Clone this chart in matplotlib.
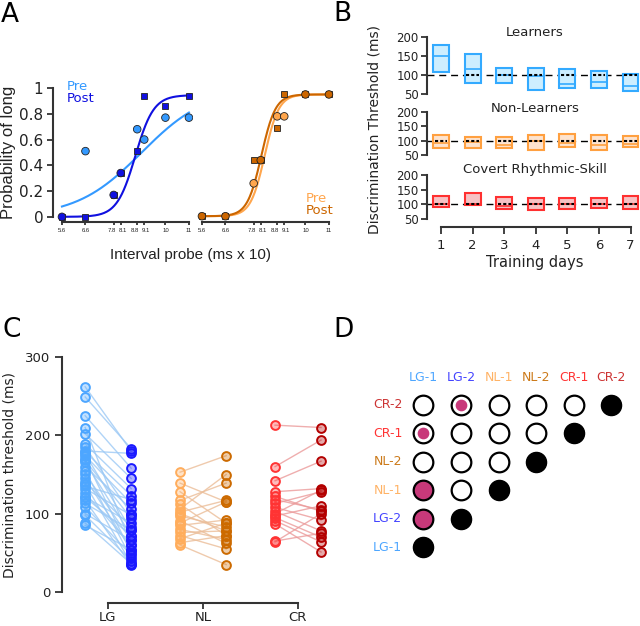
import numpy as np
import matplotlib
matplotlib.use("Agg")
import matplotlib.pyplot as plt
import matplotlib.transforms as mtransforms

plt.rcParams["font.family"] = ["DejaVu Sans"]

# ---- panel A: psychometric data (probability of "long") ----
probes = [5.6, 6.6, 7.8, 8.1, 8.8, 9.1, 10, 11]
probe_labels = ["5.6", "6.6", "7.8", "8.1", "8.8", "9.1", "10", "11"]
lg_pre = [0.0, 0.51, 0.17, 0.34, 0.68, 0.60, 0.77, 0.77]
lg_post = [0.0, 0.0, 0.17, 0.34, 0.51, 0.94, 0.86, 0.94]
nl_pre = [0.005, 0.005, 0.26, 0.44, 0.78, 0.78, 0.95, 0.95]
nl_post = [0.005, 0.005, 0.44, 0.44, 0.69, 0.95, 0.95, 0.95]
# logistic fit parameters: (midpoint, slope, lower, upper)
fit_lg_pre = (8.99, 1.39, 0.0, 1.0)
fit_lg_post = (8.72, 0.39, 0.0, 0.945)
fit_nl_pre = (8.27, 0.30, 0.005, 0.95)
fit_nl_post = (8.13, 0.30, 0.005, 0.95)

# ---- panel B: threshold boxes per training day (bottom, median, top) ----
days = [1, 2, 3, 4, 5, 6, 7]
learn_lo = [109, 80, 78, 62, 67, 65, 58]
learn_med = [150, 115, 100, 97, 76, 82, 72]
learn_hi = [179, 154, 119, 119, 115, 110, 104]
nonl_lo = [75, 75, 72, 68, 78, 65, 78]
nonl_med = [90, 95, 85, 100, 90, 85, 88]
nonl_hi = [118, 113, 112, 118, 122, 118, 115]
cov_lo = [90, 97, 85, 80, 82, 88, 82]
cov_med = [100, 100, 92, 100, 100, 100, 100]
cov_hi = [128, 140, 125, 120, 122, 122, 127]

# ---- panel C: individual thresholds (pre, post) ----
lg_pairs = [(262, 180), (249, 183), (225, 158), (210, 60), (202, 145), (189, 132),
            (185, 100), (179, 123), (176, 79), (174, 113), (170, 50), (168, 94),
            (166, 72), (160, 106), (155, 43), (151, 66), (145, 54), (140, 83),
            (138, 36), (132, 98), (126, 60), (121, 88), (117, 34), (113, 79),
            (109, 47), (121, 72), (98, 40), (85, 54), (88, 36), (135, 118),
            (180, 177), (100, 66)]
nl_pairs = [(153, 174), (139, 115), (128, 88), (117, 139), (112, 72), (106, 150),
            (102, 117), (97, 83), (91, 62), (85, 92), (80, 67), (76, 78), (72, 55),
            (68, 88), (63, 72), (60, 35), (100, 78), (88, 115)]
cr_pairs = [(213, 210), (160, 194), (142, 167), (128, 132), (118, 105), (113, 128),
            (108, 92), (103, 78), (97, 110), (91, 64), (87, 51), (64, 100),
            (65, 75), (122, 103), (100, 130), (95, 70)]
groups_c = ["LG", "NL", "CR"]

# ---- panel D: pairwise comparison matrix ----
conds = ["LG-1", "LG-2", "NL-1", "NL-2", "CR-1", "CR-2"]
cond_colors = ["#4da6ff", "#4444ff", "#ffb366", "#cc7a1a", "#ff3333", "#cc3333"]
# (row, col) -> "big" significant, "small" trend
signif = {(1, 0): "big", (2, 0): "big", (4, 0): "small", (5, 1): "small"}

LBLUE, DBLUE = "#3399ff", "#1010e0"
LORANGE, DORANGE = "#ffa64d", "#cc6600"
MAGENTA = "#c8397a"
SPINE = "#333333"

fig = plt.figure(figsize=(6.4, 6.26), dpi=100)


def px_axes(x0, y0, x1, y1):
    return fig.add_axes([x0 / 640, 1 - y1 / 626, (x1 - x0) / 640, (y1 - y0) / 626])


def logistic(x, p):
    m, s, lo, hi = p
    return lo + (hi - lo) / (1 + np.exp(-(x - m) / s))


def style_spines(ax, left=True):
    for side in ["top", "right"]:
        ax.spines[side].set_visible(False)
    ax.spines["left"].set_visible(left)
    for side in ["left", "bottom"]:
        ax.spines[side].set_color(SPINE)
        ax.spines[side].set_linewidth(1.5)
    ax.tick_params(colors=SPINE, width=1.3, labelcolor="#222222")


def psych_panel(ax, pre, post, fit_pre, fit_post, c_pre, c_post, show_y):
    xs = np.linspace(probes[0], probes[-1], 200)
    ax.plot(xs, logistic(xs, fit_pre), color=c_pre, lw=1.5, zorder=2)
    ax.plot(xs, logistic(xs, fit_post), color=c_post, lw=1.5, zorder=2)
    ax.plot(probes, post, "s", ms=4.5, mfc=c_post, mec="#222222", mew=0.6,
            zorder=3, clip_on=False)
    same = [abs(a - b) < 1e-6 for a, b in zip(pre, post)]
    fills = [c_post if s else c_pre for s in same]
    ax.scatter(probes, pre, s=30, c=fills, edgecolors="#222222", linewidths=0.6,
               zorder=4, clip_on=False)
    ax.set_xlim(5.22, 11.3)
    ax.set_ylim(-0.04, 1.0)
    style_spines(ax, left=show_y)
    ax.spines["bottom"].set_bounds(5.6, 11)
    ax.set_xticks(probes)
    ax.set_xticklabels(probe_labels, fontsize=4.3, family="Liberation Sans")
    ax.tick_params(axis="x", length=2, pad=2)
    # nudge the crowded pairs (7.8/8.1, 8.8/9.1) apart a little
    for lab, txt in zip(ax.get_xticklabels(), probe_labels):
        if txt in ("7.8", "8.8"):
            dx = -1.8
        elif txt in ("8.1", "9.1"):
            dx = 1.8
        else:
            continue
        off = mtransforms.ScaledTranslation(dx / 100, 0, fig.dpi_scale_trans)
        lab.set_transform(lab.get_transform() + off)
    if show_y:
        ax.spines["left"].set_bounds(0, 1)
        ax.set_yticks([0, 0.2, 0.4, 0.6, 0.8, 1])
        ax.set_yticklabels(["0", "0.2", "0.4", "0.6", "0.8", "1"], fontsize=11)
        ax.tick_params(axis="y", length=4, pad=3)
    else:
        ax.set_yticks([])


# ---------- panel A ----------
axA1 = px_axes(53, 88, 196, 222)
axA2 = px_axes(193, 88, 336, 222)
psych_panel(axA1, lg_pre, lg_post, fit_lg_pre, fit_lg_post, LBLUE, DBLUE, True)
psych_panel(axA2, nl_pre, nl_post, fit_nl_pre, fit_nl_post, LORANGE, DORANGE, False)
fig.text(9 / 640, 1 - 152 / 626, "Probability of long", rotation=90, ha="center",
         va="center", fontsize=12, family="Liberation Sans", color="#222222")
fig.text(190 / 640, 1 - 255 / 626, "Interval probe (ms x 10)", ha="center",
         va="center", fontsize=11, family="Liberation Sans", color="#222222")
fig.text(67 / 640, 1 - 87 / 626, "Pre", color=LBLUE, fontsize=9.5, va="center")
fig.text(67 / 640, 1 - 99 / 626, "Post", color=DBLUE, fontsize=9.5, va="center")
fig.text(306 / 640, 1 - 199 / 626, "Pre", color=LORANGE, fontsize=9.5, va="center")
fig.text(306 / 640, 1 - 211 / 626, "Post", color=DORANGE, fontsize=9.5, va="center")

# ---------- panel B ----------
b_sets = [
    ("Learners", learn_lo, learn_med, learn_hi, "#33aaff", "#cdeeff", (35, 96), 32),
    ("Non-Learners", nonl_lo, nonl_med, nonl_hi, "#ffa040", "#fde3cf", (111, 156), 109),
    ("Covert Rhythmic-Skill", cov_lo, cov_med, cov_hi, "#ff3030", "#f6c2c4", (174, 220), 170),
]
axes_b = []
for title, lo, med, hi, edge, face, (y0, y1), ty in b_sets:
    ax = px_axes(427, y0, 640, y1)
    axes_b.append(ax)
    ax.axhline(100, color="black", lw=1, ls=(0, (5, 3.5)), zorder=1)
    heights = [h - l for h, l in zip(hi, lo)]
    ax.bar(days, heights, bottom=lo, width=0.5, facecolor=face, edgecolor=edge,
           lw=1.5, zorder=2)
    ax.hlines(med, [d - 0.25 for d in days], [d + 0.25 for d in days],
              color=edge, lw=1.2, zorder=3)
    inside = [d for d, l, h in zip(days, lo, hi) if l < 100 < h]
    ax.hlines([100] * len(inside), [d - 0.2 for d in inside],
              [d + 0.2 for d in inside], color="black", lw=1.5,
              ls=(0, (1.5, 1)), zorder=4)
    ax.set_xlim(0.555, 7.3)
    ax.set_ylim(45, 205)
    style_spines(ax)
    ax.spines["left"].set_bounds(50, 200)
    ax.set_yticks([50, 100, 150, 200])
    ax.tick_params(axis="y", labelsize=8.5, length=4, pad=2)
    ax.spines["bottom"].set_visible(False)
    ax.set_xticks([])
    fig.text(535 / 640, 1 - ty / 626, title, ha="center", va="center", fontsize=9.5,
             color="#222222")
axb = axes_b[-1]
axb.spines["bottom"].set_visible(True)
axb.spines["bottom"].set_position(("outward", 5))
axb.spines["bottom"].set_bounds(1, 7)
axb.set_xticks(days)
axb.tick_params(axis="x", labelsize=9.5, length=5)
fig.text(535 / 640, 1 - 263 / 626, "Training days", ha="center", va="center",
         fontsize=10.5, color="#222222")
fig.text(375 / 640, 1 - 130 / 626, "Discrimination Threshold (ms)", rotation=90,
         ha="center", va="center", fontsize=10, color="#222222")

# ---------- panel C ----------
axC = px_axes(62, 357, 332, 592)
c_data = [
    (lg_pairs, "#4da6ff", "#1a1aff", "#9cc9f5"),
    (nl_pairs, "#ffad5c", "#cc6a00", "#ebbd98"),
    (cr_pairs, "#ff3333", "#b30000", "#eb9a9a"),
]
for gi, (pairs, c_pre, c_post, c_line) in enumerate(c_data):
    pre = [p[0] for p in pairs]
    post = [p[1] for p in pairs]
    x_pre, x_post = gi - 0.24, gi + 0.245
    for a, b in pairs:
        axC.plot([x_pre, x_post], [a, b], color=c_line, lw=1, alpha=0.8, zorder=1)
    axC.scatter([x_pre] * len(pre), pre, s=40, facecolors=c_pre + "55",
                edgecolors=c_pre, linewidths=1.4, zorder=2)
    axC.scatter([x_post] * len(post), post, s=40, facecolors=c_post + "55",
                edgecolors=c_post, linewidths=1.4, zorder=2)
axC.set_xlim(-0.484, 2.36)
axC.set_ylim(0, 300)
style_spines(axC)
axC.spines["left"].set_bounds(0, 300)
axC.spines["bottom"].set_position(("outward", 8))
axC.spines["bottom"].set_bounds(0, 2)
axC.set_xticks([0, 1, 2])
axC.set_xticklabels(groups_c)
axC.set_yticks([0, 100, 200, 300])
axC.tick_params(labelsize=9.5, length=5)
axC.tick_params(axis="x", length=4, pad=1.5)
axC.set_ylabel("Discrimination threshold (ms)", fontsize=10, color="#222222",
               labelpad=6)

# ---------- panel D ----------
axD = px_axes(395, 365, 634, 567)
axD.set_xlim(-0.75, 5.6)
axD.set_ylim(-0.7, 6.4)
axD.axis("off")
for r in range(len(conds)):
    for c in range(r + 1):
        if r == c:
            axD.scatter(c, r, s=210, c="black", zorder=2)
            continue
        kind = signif.get((r, c))
        face = MAGENTA if kind == "big" else "white"
        axD.scatter(c, r, s=200, facecolors=face, edgecolors="black",
                    linewidths=1.6, zorder=2)
        if kind == "small":
            axD.scatter(c, r, s=55, c=MAGENTA, zorder=3)
for i, (name, col) in enumerate(zip(conds, cond_colors)):
    axD.text(i, 5.95, name, color=col, ha="center", va="center", fontsize=9)
    axD.text(-0.56, i, name, color=col, ha="right", va="center", fontsize=9)

# panel letters
for letter, x, y in [("A", 1, 22), ("B", 333, 21), ("C", 2, 337), ("D", 333, 337)]:
    fig.text(x / 640, 1 - y / 626, letter, fontsize=19, va="baseline", ha="left",
             color="black")

fig.savefig("out.png", dpi=100)
